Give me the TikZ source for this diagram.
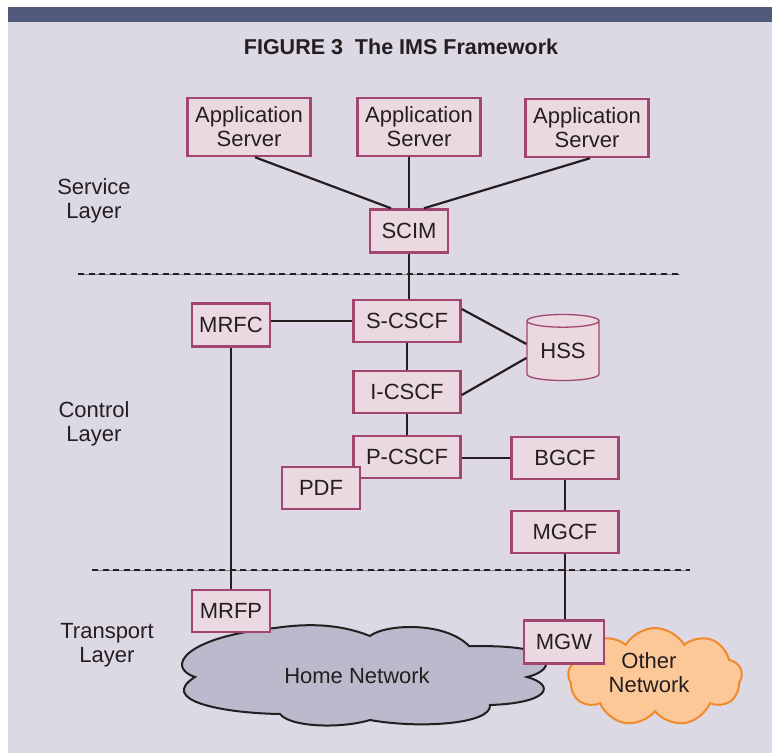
\documentclass[tikz,border=0pt]{standalone}
\usepackage{fontspec}
\setmainfont{Liberation Sans}
\usetikzlibrary{shapes.geometric}
\usetikzlibrary{shapes.symbols}
\definecolor{bgpanel}{HTML}{DCD8E4}
\definecolor{topbar}{HTML}{525A7C}
\definecolor{boxfill}{HTML}{EAD9E1}
\definecolor{boxline}{HTML}{A3466F}
\definecolor{homefill}{HTML}{BBB9CB}
\definecolor{otherfill}{HTML}{FDC898}
\definecolor{otherline}{HTML}{F08A2A}
\definecolor{inkdark}{HTML}{231F20}
\tikzset{x=1pt, y=-1pt,
every node/.style={ % Sets the text of every node
font=\fontsize{22}{24}\selectfont,
text=inkdark},
func/.style={ % Boxes of the IMS functions
draw=boxline,
line width=2.5pt,
fill=boxfill,
inner sep=0pt,
minimum width=107pt,
minimum height=42pt},
small func/.style={func, minimum width=78pt},
db/.style={ % Database drum
cylinder, shape border rotate=90, aspect=0.28,
draw=boxline, line width=1.3pt, fill=boxfill,
minimum width=72pt, minimum height=66pt, inner sep=0pt},
netcloud/.style={ % Networks at the bottom
cloud, cloud ignores aspect, line width=2pt, inner sep=0pt},
layer name/.style={align=center},
layer line/.style={ % Borders between the layers
line width=2.6pt, dash pattern=on 6pt off 4.6pt, inkdark},
every edge/.style={ % Sets the properties for each link
draw,
line width=2.2pt,
inkdark}}

\begin{document}
\begin{tikzpicture}
\useasboundingbox (0,0) rectangle (772,753);
\fill[bgpanel] (8,7) rectangle (772,753);
\fill[topbar] (8,7) rectangle (772,22);
\node[font=\fontsize{21.5}{24}\selectfont\bfseries] (title) at (401,47) {FIGURE 3\ \ The IMS Framework};

% layers
\node[layer name] (service) at (94,201) {Service\\Layer};
\node[layer name] (control) at (94,424) {Control\\Layer};
\node[layer name] (transport) at (107,645) {Transport\\Layer};
\draw[line width=0.8pt, gray] (78,274) -- (680,274);
\draw[layer line] (78,274) -- (680,274);
\draw[line width=0.8pt, gray] (92,570) -- (690,570);
\draw[layer line] (92,570) -- (690,570);

% networks
\draw[line width=2pt, draw=inkdark, fill=homefill] (195,677)
  .. controls (165,667) and (185,637) .. (275,628)
  .. controls (315,622) and (345,626) .. (370,636)
  .. controls (385,624) and (445,621) .. (469,646)
  .. controls (500,646) and (546,646) .. (546,664)
  .. controls (546,670) and (536,675) .. (527,677)
  .. controls (556,685) and (550,703) .. (490,705)
  .. controls (492,724) and (420,729) .. (370,720)
  .. controls (340,729) and (290,727) .. (280,714)
  .. controls (220,713) and (158,700) .. (195,677) -- cycle;
\node (homelbl) at (357,676) {Home Network};
\node[netcloud, cloud puffs=9, cloud puff arc=120, draw=otherline, fill=otherfill, minimum width=174pt, minimum height=98pt] (other) at (655,677) {};
\node[align=center] (otherlbl) at (649,673) {Other\\Network};

% service layer
\node[func, minimum width=123pt, minimum height=58pt, align=center] (as1) at (249,127) {Application\\Server};
\node[func, minimum width=123pt, minimum height=58pt, align=center] (as2) at (419,127) {Application\\Server};
\node[func, minimum width=123pt, minimum height=58pt, align=center] (as3) at (587,128) {Application\\Server};
\node[small func, minimum height=43pt] (scim) at (409,231) {SCIM};

% control layer
\node[small func, minimum height=43pt] (mrfc) at (231,325) {MRFC};
\node[func] (scscf) at (407,321) {S-CSCF};
\node[db] (hss) at (563,351) {HSS};
\node[func] (icscf) at (407,392) {I-CSCF};
\node[func] (pcscf) at (407,457) {P-CSCF};
\node[small func] (pdf) at (321,488) {PDF};
\node[func] (bgcf) at (565,458) {BGCF};
\node[func] (mgcf) at (565,532) {MGCF};

% transport layer
\node[small func] (mrfp) at (231,611) {MRFP};
\node[small func, minimum width=80pt, minimum height=43pt] (mgw) at (564,642) {MGW};

\draw ([xshift=6pt]as1.south) edge ([xshift=-18pt]scim.north);
\draw (as2.south -| scim.north) edge (scim.north);
\draw ([xshift=3pt]as3.south) edge ([xshift=15pt]scim.north);
\draw (scim.south) edge (scim.south |- scscf.north);
\draw (mrfc.east |- scscf.west) edge (scscf.west);
\draw ([yshift=12pt]scscf.east) edge ([yshift=7pt]hss.west);
\draw ([yshift=-3pt]icscf.east) edge ([yshift=-7pt]hss.west);
\draw (scscf) edge (icscf);
\draw (icscf) edge (pcscf);
\draw (pcscf.east |- bgcf.west) edge (bgcf.west);
\draw (bgcf) edge (mgcf);
\draw (mgcf.south) edge (mgcf.south |- mgw.north);
\draw (mrfc) edge (mrfp);
\end{tikzpicture}
\end{document}
